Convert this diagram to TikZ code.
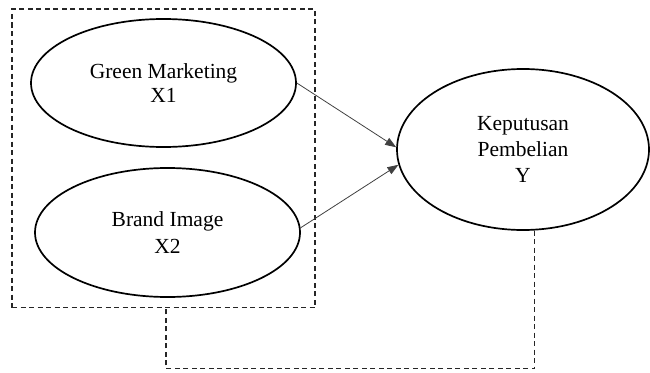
\documentclass[tikz,border=0pt]{standalone}
\usepackage{fontspec}
\setmainfont{Liberation Serif}
\usetikzlibrary{shapes.geometric,arrows.meta}
\begin{document}
\begin{tikzpicture}[x=1pt,y=-1pt,
  var/.style={draw=black,line width=1.7pt,ellipse,inner sep=0pt,align=center,
    font=\fontsize{21.5}{24}\selectfont},
  grp/.style={draw=black!85,line width=1.4pt,dash pattern=on 5pt off 3.5pt,rectangle,inner sep=0pt},
  fb/.style={draw=black!85,line width=1.4pt,dash pattern=on 5pt off 3.5pt},
  path/.style={draw=black!75,line width=0.8pt,-{Triangle[length=11pt,width=8pt]}}]
\useasboundingbox (0,0) rectangle (650,372);
\node[grp,minimum width=303pt,minimum height=298.5pt] (box) at (163.5,158.25) {};
\node[var,minimum width=265pt,minimum height=128pt] (e1) at (163.5,83) {Green Marketing\\X1};
\node[var,minimum width=265pt,minimum height=129pt] (e2) at (167.5,232.5) {Brand Image\\[3pt]X2};
\node[var,minimum width=252pt,minimum height=161pt,font=\fontsize{21.5}{26}\selectfont] (e3) at (523,149.5) {Keputusan\\Pembelian\\Y};
\draw[path] (e1.east) -- (e3.179);
\draw[path] (e2.2) -- (e3.187);
\draw[fb] (e3.-82) |- ([xshift=2.5pt,yshift=-60.5pt]box.south) -- ([xshift=2.5pt]box.south);
\end{tikzpicture}
\end{document}
